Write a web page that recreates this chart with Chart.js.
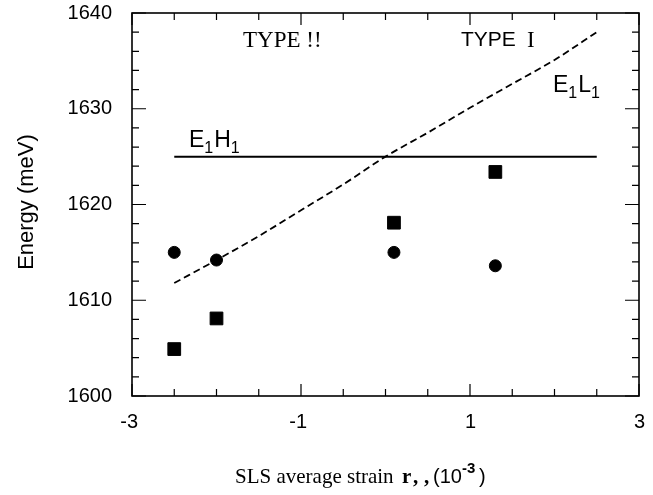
<!DOCTYPE html>
<html>
<head>
<meta charset="utf-8">
<script src="https://cdn.jsdelivr.net/npm/chart.js@4"></script>
<style>
  html, body { margin: 0; padding: 0; background: #fff; }
  #wrap { width: 653px; height: 495px; }
</style>
</head>
<body>
<div id="wrap"><canvas id="chart"></canvas></div>
<script>
// data
const circleX = [-2.5, -2.0, 0.1, 1.3];
const circleY = [1615.0, 1614.2, 1615.0, 1613.6];
const squareX = [-2.5, -2.0, 0.1, 1.3];
const squareY = [1604.9, 1608.1, 1618.1, 1623.4];
const e1h1X = [-2.5, 2.5];
const e1h1Y = [1625, 1625];
const e1l1X = [-2.5, -2, -1.5, -1, -0.5, 0, 0.5, 1, 1.5, 2, 2.5];
const e1l1Y = [1611.8, 1614.2, 1616.7, 1619.4, 1622.1, 1625, 1627.5, 1630.1, 1632.6, 1635.1, 1638];
const xMajor = [-3, -1, 1, 3];
const xMinor = [-2.5, -2, -1.5, -0.5, 0, 0.5, 1.5, 2, 2.5];
const yMajor = [1600, 1610, 1620, 1630, 1640];
const yMinor = [1602, 1604, 1606, 1608, 1612, 1614, 1616, 1618, 1622, 1624, 1626, 1628, 1632, 1634, 1636, 1638];

const pts = (xs, ys) => xs.map((x, i) => ({ x: x, y: ys[i] }));

const SANS = "'Liberation Sans', Arial, sans-serif";
const SERIF = "'Liberation Serif', 'Times New Roman', serif";

// inward ticks on all four sides, frame, x labels and text annotations
const decor = {
  id: "decor",
  afterDraw(chart) {
    const ctx = chart.ctx;
    const a = chart.chartArea;
    const xs = chart.scales.x;
    const ys = chart.scales.y;
    ctx.save();
    ctx.strokeStyle = "#000";
    ctx.lineWidth = 1.6;
    ctx.strokeRect(a.left, a.top, a.right - a.left, a.bottom - a.top);
    ctx.lineWidth = 1.2;
    const tickX = (v, len) => {
      const px = xs.getPixelForValue(v);
      ctx.beginPath();
      ctx.moveTo(px, a.bottom); ctx.lineTo(px, a.bottom - len);
      ctx.moveTo(px, a.top); ctx.lineTo(px, a.top + len);
      ctx.stroke();
    };
    const tickY = (v, len) => {
      const py = ys.getPixelForValue(v);
      ctx.beginPath();
      ctx.moveTo(a.left, py); ctx.lineTo(a.left + len, py);
      ctx.moveTo(a.right, py); ctx.lineTo(a.right - len, py);
      ctx.stroke();
    };
    xMajor.forEach(v => tickX(v, 12));
    xMinor.forEach(v => tickX(v, 7));
    yMajor.forEach(v => tickY(v, 14));
    yMinor.forEach(v => tickY(v, 7));

    ctx.fillStyle = "#000";

    // x tick labels, the minus sign hangs to the left of the tick
    ctx.font = "20px " + SANS;
    ctx.textAlign = "right";
    ctx.textBaseline = "middle";
    xMajor.forEach(v => {
      ctx.fillText(String(v), xs.getPixelForValue(v) + 6, a.bottom + 26);
    });

    ctx.textBaseline = "alphabetic";
    ctx.textAlign = "left";

    // TYPE labels
    ctx.font = "23px " + SERIF;
    ctx.fillText("TYPE !!", 243, 47);
    ctx.font = "21px " + SANS;
    ctx.fillText("TYPE", 461, 46);
    ctx.font = "23px " + SERIF;
    ctx.fillText("I", 527, 47);

    // subscripted curve labels
    const sub = (base1, s1, base2, s2, x, y) => {
      ctx.font = "23px " + SANS;
      ctx.fillText(base1, x, y);
      let cx = x + ctx.measureText(base1).width;
      ctx.font = "16px " + SANS;
      ctx.fillText(s1, cx, y + 6);
      cx += ctx.measureText(s1).width + 1;
      ctx.font = "23px " + SANS;
      ctx.fillText(base2, cx, y);
      cx += ctx.measureText(base2).width;
      ctx.font = "16px " + SANS;
      ctx.fillText(s2, cx, y + 6);
    };
    sub("E", "1", "H", "1", 189, 147);
    sub("E", "1", "L", "1", 553, 92);

    // x axis title
    const by = 483;
    ctx.font = "21px " + SERIF;
    ctx.fillText("SLS average strain", 235, by);
    ctx.font = "bold 21px " + SERIF;
    ctx.fillText("r", 402, by);
    ctx.fillText(",", 413, by);
    ctx.fillText(",", 424, by);
    ctx.font = "20px " + SANS;
    ctx.fillText("(10", 433, by);
    ctx.font = "bold 15px " + SANS;
    ctx.fillText("-3", 462, by - 10);
    ctx.font = "20px " + SANS;
    ctx.fillText(")", 479, by);

    // y axis title
    ctx.translate(33, 202);
    ctx.rotate(-Math.PI / 2);
    ctx.textAlign = "center";
    ctx.font = "22px " + SANS;
    ctx.fillText("Energy (meV)", 0, 0);
    ctx.restore();
  }
};

const ctx = document.getElementById("chart").getContext("2d");
new Chart(ctx, {
  type: "scatter",
  data: {
    datasets: [
      {
        label: "E1H1",
        data: pts(e1h1X, e1h1Y),
        showLine: true,
        borderColor: "#000",
        borderWidth: 2,
        pointRadius: 0,
      },
      {
        label: "E1L1",
        data: pts(e1l1X, e1l1Y),
        showLine: true,
        borderColor: "#000",
        borderWidth: 1.8,
        borderDash: [7, 4],
        cubicInterpolationMode: "monotone",
        pointRadius: 0,
      },
      {
        label: "circles",
        data: pts(circleX, circleY),
        pointStyle: "circle",
        pointRadius: 6,
        backgroundColor: "#000",
        borderColor: "#000",
      },
      {
        label: "squares",
        data: pts(squareX, squareY),
        pointStyle: "rect",
        pointRadius: 9,
        backgroundColor: "#000",
        borderColor: "#000",
      },
    ],
  },
  options: {
    responsive: true,
    maintainAspectRatio: false,
    animation: false,
    layout: { padding: { top: 13, right: 14, left: 0, bottom: 0 } },
    plugins: {
      legend: { display: false },
      tooltip: { enabled: false },
    },
    scales: {
      x: {
        type: "linear",
        min: -3,
        max: 3,
        grid: { display: false },
        border: { display: false },
        ticks: { display: false, stepSize: 2 },
        afterFit: (s) => {
          s.height = 99;
          s.paddingLeft = 0;
          s.paddingRight = 0;
        },
      },
      y: {
        min: 1600,
        max: 1640,
        grid: { display: false },
        border: { display: false },
        ticks: {
          stepSize: 10,
          color: "#000",
          padding: 12,
          font: { family: SANS, size: 20 },
          callback: (v) => String(v),
        },
        afterFit: (s) => {
          s.width = 132;
          s.paddingTop = 0;
          s.paddingBottom = 0;
        },
      },
    },
  },
  plugins: [decor],
});
</script>
</body>
</html>
